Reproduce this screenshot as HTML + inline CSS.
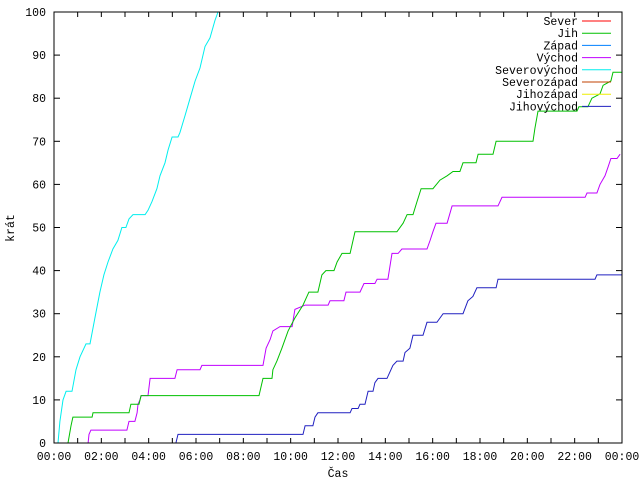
<!DOCTYPE html>
<html><head><meta charset="utf-8">
<style>
html,body{margin:0;padding:0;background:#fff;}
svg{display:block;}
text{font-family:"Liberation Mono",monospace;font-size:11.5px;fill:#000;}
</style></head>
<body>
<svg id="chart" width="640" height="480" xmlns="http://www.w3.org/2000/svg">
<rect x="0" y="0" width="640" height="480" fill="#fff"/>
<g id="grid"></g>
<g id="series"></g>
<rect x="54" y="12" width="568" height="431" fill="none" stroke="#000" stroke-width="1"/>
<text x="14" y="228" text-anchor="middle" transform="rotate(-90 14 228)">krát</text>
<text x="338" y="477" text-anchor="middle">Čas</text>
<g id="legend"></g>
</svg>
<script>
const xTickLabels = ["00:00","02:00","04:00","06:00","08:00","10:00","12:00","14:00","16:00","18:00","20:00","22:00","00:00"];
const yTickValues = [0,10,20,30,40,50,60,70,80,90,100];
const legendNames = ["Sever","Jih","Západ","Východ","Severovýchod","Severozápad","Jihozápad","Jihovýchod"];
const legendColors = ["#ff0000","#00c000","#0080ff","#c000ff","#00eeee","#c04000","#eeee00","#2020c0"];

const jihTimes = [0.59,0.72,0.80,1.61,1.65,3.17,3.25,3.59,3.68,8.66,8.83,9.21,9.25,9.42,9.63,9.89,10.18,10.52,10.77,11.15,11.32,11.49,11.83,11.96,12.17,12.51,12.72,14.49,14.75,14.92,15.17,15.34,15.51,16.01,16.31,16.61,16.86,17.15,17.28,17.83,17.92,18.55,18.68,20.24,20.32,20.45,22.10,22.18,22.56,22.73,23.07,23.20,23.53,23.62,24];
const jihValues = [0,4,6,6,7,7,9,9,11,11,15,15,17,19,22,26,29,32,35,35,39,40,40,42,44,44,49,49,51,53,53,56,59,59,61,62,63,63,65,65,67,67,70,70,73,77,77,78,78,80,81,83,84,86,86];

const vychodTimes = [1.44,1.48,1.56,3.08,3.17,3.42,3.51,3.55,3.63,3.68,3.97,4.06,5.11,5.20,6.17,6.25,8.83,8.96,9.13,9.25,9.55,10.06,10.18,10.61,11.58,11.66,12.25,12.34,12.93,13.10,13.56,13.65,14.11,14.28,14.54,14.70,15.76,15.89,16.01,16.14,16.61,16.82,18.76,18.93,22.44,22.52,22.94,23.07,23.28,23.41,23.53,23.79,23.92];
const vychodValues = [0,2,3,3,5,5,7,9,10,11,11,15,15,17,17,18,18,22,24,26,27,27,31,32,32,33,33,35,35,37,37,38,38,44,44,45,45,47,49,51,51,55,55,57,57,58,58,60,62,64,66,66,67];

const jihovychodTimes = [5.15,5.24,10.52,10.61,10.94,11.03,11.15,12.51,12.59,12.85,12.93,13.14,13.27,13.48,13.56,13.69,14.07,14.32,14.49,14.75,14.83,15.04,15.17,15.59,15.76,16.18,16.31,16.44,17.28,17.49,17.70,17.87,18.68,18.76,22.86,22.94,24];
const jihovychodValues = [0,2,2,4,4,6,7,7,8,8,9,9,12,12,14,15,15,18,19,19,21,22,25,25,28,28,29,30,30,33,34,36,36,38,38,39,39];

const severovychodTimes = [0.17,0.25,0.38,0.51,0.76,0.93,1.10,1.35,1.52,1.73,1.94,2.11,2.28,2.49,2.70,2.87,3.04,3.17,3.34,3.85,3.97,4.14,4.35,4.48,4.69,4.82,4.99,5.24,5.32,5.54,5.75,5.96,6.17,6.38,6.59,6.80,6.93];
const severovychodValues = [0,5,10,12,12,17,20,23,23,29,35,39,42,45,47,50,50,52,53,53,54,56,59,62,65,68,71,71,72,76,80,84,87,92,94,98,100];

const X0=54, X1=622, Y0=443, Y1=12;
function xs(h){ return X0 + h/24*(X1-X0); }
function ys(v){ return Y0 - v/100*(Y0-Y1); }
const NS="http://www.w3.org/2000/svg";
const grid=document.getElementById('grid');
for(let i=0;i<=24;i++){
  const x=xs(i);
  const len = 5;
  const t1=document.createElementNS(NS,'line');
  t1.setAttribute('x1',x);t1.setAttribute('x2',x);t1.setAttribute('y1',Y0);t1.setAttribute('y2',Y0-len);
  t1.setAttribute('stroke','#000');
  
  
  grid.appendChild(t1);
  const t2=document.createElementNS(NS,'line');
  t2.setAttribute('x1',x);t2.setAttribute('x2',x);t2.setAttribute('y1',Y1);t2.setAttribute('y2',Y1+len);
  t2.setAttribute('stroke','#000');
  
  
  grid.appendChild(t2);
}
xTickLabels.forEach((lab,i)=>{
  const t=document.createElementNS(NS,'text');
  t.setAttribute('x',xs(i*2));t.setAttribute('y',460);t.setAttribute('text-anchor','middle');
  t.textContent=lab;
  
  
  grid.appendChild(t);
});
yTickValues.forEach(v=>{
  const y=ys(v);
  const a=document.createElementNS(NS,'line');
  a.setAttribute('x1',X0);a.setAttribute('x2',X0+6);a.setAttribute('y1',y);a.setAttribute('y2',y);
  a.setAttribute('stroke','#000');
  
  
  grid.appendChild(a);
  const b=document.createElementNS(NS,'line');
  b.setAttribute('x1',X1);b.setAttribute('x2',X1-6);b.setAttribute('y1',y);b.setAttribute('y2',y);
  b.setAttribute('stroke','#000');
  
  
  grid.appendChild(b);
  const t=document.createElementNS(NS,'text');
  t.setAttribute('x',46);t.setAttribute('y',y+4);t.setAttribute('text-anchor','end');
  t.textContent=v;
  
  
  grid.appendChild(t);
});
const series=document.getElementById('series');
function drawLine(times, vals, color, name){
  const pts=times.map((h,i)=>xs(h).toFixed(1)+','+ys(vals[i]).toFixed(1)).join(' ');
  const p=document.createElementNS(NS,'polyline');
  p.setAttribute('points',pts);p.setAttribute('fill','none');p.setAttribute('stroke',color);p.setAttribute('stroke-width','1');
  
  
  series.appendChild(p);
}
drawLine(severovychodTimes,severovychodValues,legendColors[4],'severovychod-line');
drawLine(vychodTimes,vychodValues,legendColors[3],'vychod-line');
drawLine(jihTimes,jihValues,legendColors[1],'jih-line');
drawLine(jihovychodTimes,jihovychodValues,legendColors[7],'jihovychod-line');

const legend=document.getElementById('legend');
legendNames.forEach((n,i)=>{
  const y=21+i*12.2;
  const t=document.createElementNS(NS,'text');
  t.setAttribute('x',578);t.setAttribute('y',y+4);t.setAttribute('text-anchor','end');
  t.textContent=n;
  
  
  legend.appendChild(t);
  const l=document.createElementNS(NS,'line');
  l.setAttribute('x1',582);l.setAttribute('x2',611);l.setAttribute('y1',y);l.setAttribute('y2',y);
  l.setAttribute('stroke',legendColors[i]);
  
  
  legend.appendChild(l);
});
</script>
</body></html>
